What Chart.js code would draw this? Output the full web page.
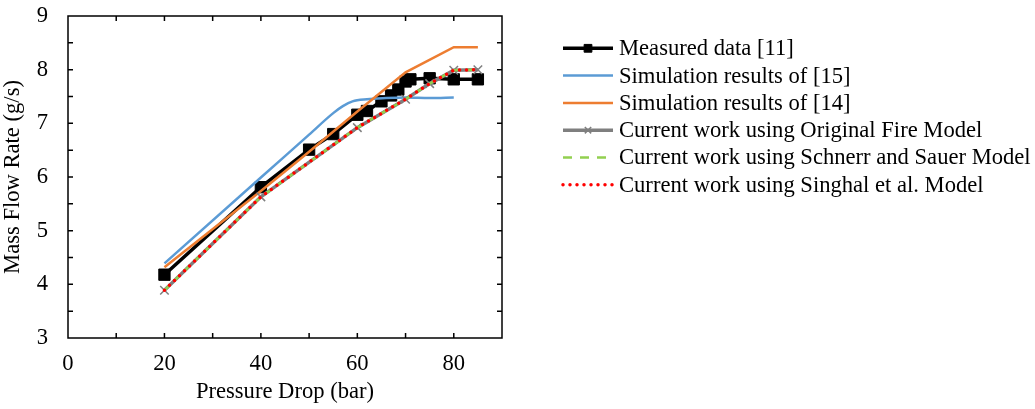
<!DOCTYPE html>
<html>
<head>
<meta charset="utf-8">
<script src="https://cdn.jsdelivr.net/npm/chart.js@4/dist/chart.umd.min.js"></script>
<style>
    html, body { margin: 0; padding: 0; background: #fff; }
    #wrap { width: 1035px; height: 409px; position: relative; }
</style>
</head>
<body>
<div id="wrap"><canvas id="flow-chart"></canvas></div>
<script>
const FONT = '"Liberation Serif", "Times New Roman", serif';

// Measured data [11]
const measuredX = [20, 40, 50, 55, 60, 62, 65, 67, 68.5, 70, 71, 75, 80, 85];
const measuredY = [4.18, 5.81, 6.51, 6.80, 7.16, 7.23, 7.41, 7.52, 7.63, 7.78, 7.82, 7.84, 7.82, 7.82];

// Simulation results of [15]
const sim15X = [20, 40, 50, 55, 57, 59, 62, 66, 70, 75, 80];
const sim15Y = [4.39, 5.99, 6.79, 7.19, 7.32, 7.41, 7.45, 7.47, 7.48, 7.47, 7.48];

// Simulation results of [14]
const sim14X = [20, 40, 50, 60, 70, 80, 85];
const sim14Y = [4.32, 5.74, 6.47, 7.22, 7.95, 8.42, 8.42];

// Current work (the three cavitation models give the same curve)
const currentX = [20, 40, 60, 70, 75, 80, 85];
const fireY = [3.89, 5.63, 6.92, 7.45, 7.74, 7.99, 8.00];
const schnerrY = [3.89, 5.63, 6.92, 7.45, 7.74, 7.99, 8.00];
const singhalY = [3.89, 5.63, 6.92, 7.45, 7.74, 7.99, 8.00];

const xTicks = [0, 20, 40, 60, 80];
const yTicks = [3, 4, 5, 6, 7, 8, 9];

const seriesNames = [
    'Measured data [11]',
    'Simulation results of [15]',
    'Simulation results of [14]',
    'Current work using Original Fire Model',
    'Current work using Schnerr and Sauer Model',
    'Current work using Singhal et al. Model'
];

const toPoints = (xs, ys) => xs.map((x, i) => ({ x, y: ys[i] }));

// frame around the plot with inward tick marks on all four sides
const framePlugin = {
    id: 'frame',
    afterDatasetsDraw(chart) {
        const { ctx, chartArea: a, scales } = chart;
        const len = 5;
        ctx.save();
        ctx.strokeStyle = '#000';
        ctx.lineWidth = 1.5;
        ctx.strokeRect(a.left, a.top, a.right - a.left, a.bottom - a.top);
        ctx.beginPath();
        for (let v = 10; v < 90; v += 10) {
            const px = scales.x.getPixelForValue(v);
            ctx.moveTo(px, a.bottom); ctx.lineTo(px, a.bottom - len);
            ctx.moveTo(px, a.top); ctx.lineTo(px, a.top + len);
        }
        for (let v = 3.5; v < 9; v += 0.5) {
            const py = scales.y.getPixelForValue(v);
            ctx.moveTo(a.left, py); ctx.lineTo(a.left + len, py);
            ctx.moveTo(a.right, py); ctx.lineTo(a.right - len, py);
        }
        ctx.stroke();
        ctx.restore();
    }
};

// legend with line samples, drawn to the right of the plot
const sideLegend = {
    id: 'sideLegend',
    afterDraw(chart) {
        const { ctx, chartArea: a } = chart;
        const x0 = a.right + 61, x1 = x0 + 50, tx = x1 + 6;
        const top = 48.3, step = 27.3;
        ctx.save();
        chart.data.datasets.forEach((ds, i) => {
            const y = top + i * step;
            ctx.save();
            ctx.strokeStyle = ds.borderColor;
            ctx.lineWidth = ds.borderWidth;
            ctx.lineCap = ds.borderCapStyle || 'butt';
            ctx.setLineDash(ds.legendDash || ds.borderDash || []);
            ctx.beginPath();
            ctx.moveTo(x0, y);
            ctx.lineTo(x1, y);
            ctx.stroke();
            ctx.restore();
            if (ds.pointRadius > 0) {
                ctx.save();
                ctx.fillStyle = ds.pointBackgroundColor;
                ctx.strokeStyle = ds.pointBorderColor;
                ctx.lineWidth = ds.pointBorderWidth;
                Chart.helpers.drawPoint(ctx, {
                    pointStyle: ds.pointStyle,
                    radius: ds.legendPointRadius,
                    borderWidth: ds.pointBorderWidth,
                    rotation: 0
                }, (x0 + x1) / 2, y);
                ctx.restore();
            }
            ctx.fillStyle = '#000';
            ctx.font = '22.6px ' + FONT;
            ctx.textBaseline = 'middle';
            ctx.textAlign = 'left';
            ctx.fillText(seriesNames[i], tx, y + 1);
        });
        ctx.restore();
    }
};

const lineDefaults = { showLine: true, fill: false, tension: 0 };
const tickFont = { family: FONT, size: 22.6 };

new Chart(document.getElementById('flow-chart'), {
    type: 'scatter',
    data: {
        datasets: [
            {
                ...lineDefaults,
                data: toPoints(measuredX, measuredY),
                borderColor: '#000', borderWidth: 3.5,
                pointStyle: 'rect', pointRadius: 8, legendPointRadius: 5.5,
                pointBackgroundColor: '#000', pointBorderColor: '#000', pointBorderWidth: 1,
                order: 6
            },
            {
                ...lineDefaults,
                data: toPoints(sim15X, sim15Y),
                borderColor: '#5B9BD5', borderWidth: 2.5,
                cubicInterpolationMode: 'monotone',
                pointRadius: 0,
                order: 5
            },
            {
                ...lineDefaults,
                data: toPoints(sim14X, sim14Y),
                borderColor: '#ED7D31', borderWidth: 2.5,
                pointRadius: 0,
                order: 4
            },
            {
                ...lineDefaults,
                data: toPoints(currentX, fireY),
                borderColor: '#7F7F7F', borderWidth: 3.5,
                pointStyle: 'crossRot', pointRadius: 6, legendPointRadius: 4.5,
                pointBackgroundColor: '#7F7F7F', pointBorderColor: '#7F7F7F', pointBorderWidth: 1.5,
                order: 3
            },
            {
                ...lineDefaults,
                data: toPoints(currentX, schnerrY),
                borderColor: '#92D050', borderWidth: 2.5,
                borderDash: [7, 7],
                legendDash: [9, 8],
                pointRadius: 0,
                order: 2
            },
            {
                ...lineDefaults,
                data: toPoints(currentX, singhalY),
                borderColor: '#FF0000', borderWidth: 3.5,
                borderDash: [0, 7], borderCapStyle: 'round',
                pointRadius: 0,
                order: 1
            }
        ]
    },
    options: {
        responsive: true,
        maintainAspectRatio: false,
        animation: false,
        layout: { padding: { top: 16, left: 0, right: 533, bottom: 0 } },
        plugins: {
            legend: { display: false },
            tooltip: { enabled: false }
        },
        scales: {
            x: {
                type: 'linear', min: 0, max: 90,
                afterFit: scale => {
                    scale.height = 71;
                    scale.paddingLeft = 0;
                    scale.paddingRight = 0;
                },
                afterBuildTicks: scale => { scale.ticks = xTicks.map(value => ({ value })); },
                grid: { display: false, drawTicks: false },
                border: { display: false },
                ticks: { color: '#000', font: tickFont, padding: 13, maxRotation: 0 },
                title: { display: true, text: 'Pressure Drop (bar)', color: '#000', font: tickFont, padding: { top: 0, bottom: 3 } }
            },
            y: {
                type: 'linear', min: 3, max: 9,
                afterFit: scale => {
                    scale.width = 68;
                    scale.paddingTop = 0;
                    scale.paddingBottom = 0;
                },
                afterBuildTicks: scale => { scale.ticks = yTicks.map(value => ({ value })); },
                grid: { display: false, drawTicks: false },
                border: { display: false },
                ticks: { color: '#000', font: tickFont, padding: 20 },
                title: { display: true, text: 'Mass Flow Rate (g/s)', color: '#000', font: tickFont, padding: { top: 0, bottom: 5 } }
            }
        }
    },
    plugins: [framePlugin, sideLegend]
});
</script>
</body>
</html>
